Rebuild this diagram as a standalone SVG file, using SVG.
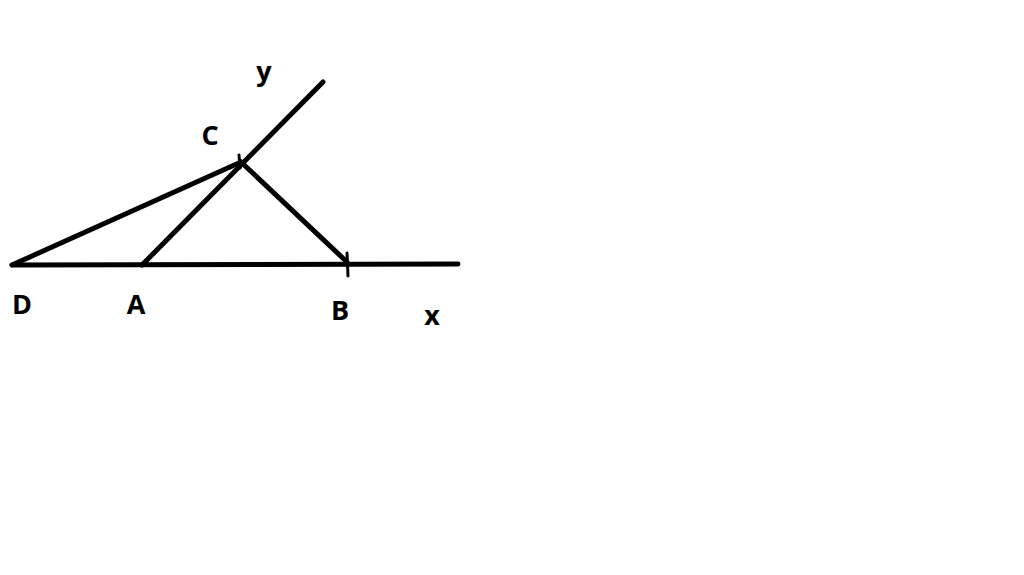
<svg xmlns="http://www.w3.org/2000/svg" width="1024" height="575" viewBox="0 0 1024 575">
<style>
.l{stroke:#000;stroke-width:5;stroke-linecap:round;fill:none}
.t{font-family:"Open Sans","Liberation Sans",sans-serif;font-weight:bold;font-size:27px;fill:#000;text-anchor:middle}
</style>
<rect width="1024" height="575" fill="#fff"/>
<g id="lines">
<line class="l" x1="12" y1="265" x2="458" y2="264"/>
<line class="l" x1="142" y1="265" x2="323" y2="82"/>
<line class="l" x1="12" y1="265" x2="241" y2="162"/>
<line class="l" x1="241" y1="162" x2="347" y2="262"/>
<line class="l" x1="239" y1="155" x2="240" y2="168" style="stroke-width:3"/>
<line class="l" x1="347" y1="253" x2="348" y2="276" style="stroke-width:3"/>
</g>
<g id="labels">
<text class="t" x="264" y="81">y</text>
<text class="t" x="210" y="145">C</text>
<text class="t" x="22" y="314">D</text>
<text class="t" x="136" y="314">A</text>
<text class="t" x="340" y="320">B</text>
<text class="t" x="432" y="325">x</text>
</g>
</svg>
